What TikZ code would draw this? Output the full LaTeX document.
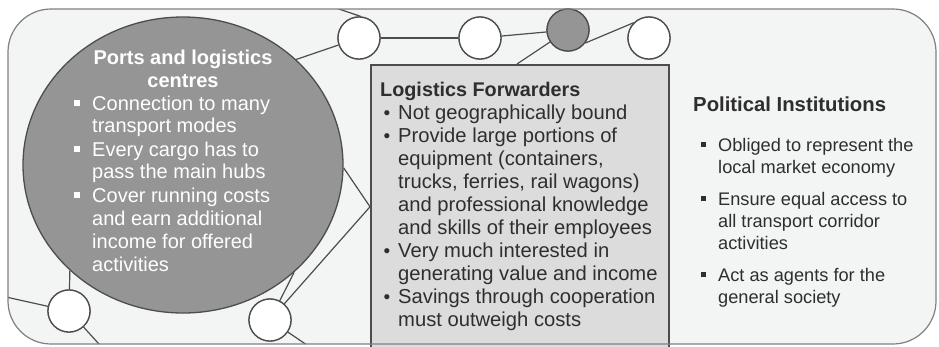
\documentclass[tikz,border=0pt]{standalone}
\usepackage{fontspec}
\setmainfont{Liberation Sans}
\usetikzlibrary{shapes.geometric}
\definecolor{framefill}{HTML}{F3F4F4}
\definecolor{framedraw}{HTML}{808080}
\definecolor{hubgray}{HTML}{959595}
\definecolor{linegray}{HTML}{4D4D4D}
\definecolor{boxfill}{HTML}{DCDCDD}
\definecolor{tgray}{HTML}{2E2E2E}
\begin{document}
\begin{tikzpicture}[x=1pt,y=-1pt,
  conn/.style={draw=linegray,line width=1.2pt},
  wcirc/.style={circle,draw=linegray,fill=white,line width=1.3pt,minimum size=42pt,inner sep=0pt},
  gcirc/.style={circle,draw=linegray,fill=hubgray,line width=1.3pt,minimum size=42pt,inner sep=0pt},
  fwbox/.style={draw=linegray,fill=boxfill,line width=1.5pt,minimum width=298pt,minimum height=284pt,inner sep=0pt,anchor=north west},
  ptxt/.style={inner sep=0pt,anchor=base west,text=white,font=\fontsize{20}{23}\selectfont},
  ptitle/.style={inner sep=0pt,anchor=base,text=white,font=\fontsize{20}{23}\selectfont\bfseries},
  btxt/.style={inner sep=0pt,anchor=base west,text=tgray,font=\fontsize{20.2}{23}\selectfont},
  btitle/.style={inner sep=0pt,anchor=base west,text=tgray,font=\fontsize{19.8}{23}\selectfont\bfseries},
  rtxt/.style={inner sep=0pt,anchor=base west,text=tgray,font=\fontsize{18.2}{21}\selectfont},
  rtitle/.style={inner sep=0pt,anchor=base west,text=tgray,font=\fontsize{20.3}{23}\selectfont\bfseries},
  wsq/.style={rectangle,fill=white,minimum size=5.5pt,inner sep=0pt},
  dsq/.style={rectangle,fill=tgray,minimum size=5pt,inner sep=0pt},
  dot/.style={inner sep=0pt,anchor=base,text=tgray,font=\fontsize{19}{22}\selectfont}]
\useasboundingbox (0,0) rectangle (939,346);
% frame
\path[fill=framefill] (8,9) [rounded corners=43pt] -- (936,9) -- (936,344) -- (8,344) -- cycle;
% network nodes
\node[ellipse,draw=linegray,fill=hubgray,line width=1.3pt,minimum width=320pt,minimum height=296pt,inner sep=0pt] (big) at (183,165) {};
\node[wcirc] (A) at (359,38) {};
\node[wcirc] (B) at (480,38) {};
\node[gcirc] (C) at (568,30) {};
\node[wcirc] (D) at (649,38) {};
\node[wcirc] (E) at (69,311) {};
\node[wcirc] (F) at (270,320) {};
\node[fwbox] (box) at (370,64) {};
\coordinate (a0) at (300,-4);
\coordinate (e2) at (118,365);
\coordinate (e3) at (-12,293);
\coordinate (f2) at (335,364);
\coordinate (cb) at (517,64);
% connectors, clipped to the frame
\begin{scope}
\clip (8,9) [rounded corners=43pt] -- (936,9) -- (936,344) -- (8,344) -- cycle;
\draw[conn] (A.85) -- (a0);
\draw[conn] (A) -- (big.43);
\draw[conn] (A) -- (B);
\draw[conn] (B) -- (C);
\draw[conn] (C) -- (cb);
\draw[conn] (C.-37) -- (D.135);
\draw[conn] (E) -- (big.223);
\draw[conn] (E) -- (e3);
\draw[conn] (E) -- (e2);
\draw[conn] (F) -- (big.316);
\draw[conn] (F) -- (box.west);
\draw[conn] (big.359) -- (box.west);
\draw[conn] (F) -- (f2);
\end{scope}
% redraw nodes over connectors
\node[wcirc] at (A) {};
\node[wcirc] at (B) {};
\node[gcirc] at (C) {};
\node[wcirc] at (D) {};
\node[wcirc] at (E) {};
\node[wcirc] at (F) {};
\node[fwbox] at (370,64) {};
% frame border
\draw[framedraw,line width=1.2pt] (8,9) [rounded corners=43pt] -- (936,9) -- (936,344) -- (8,344) -- cycle;
% ports text
\node[ptitle] (p0) at (183,64) {Ports and logistics};
\node[ptitle] (p00) at (183,87) {centres};
\foreach \y/\t [count=\i] in {110/Connection to many,132/transport modes,156/Every cargo has to,178/pass the main hubs,202/Cover running costs,225/and earn additional,248/income for offered,271/activities}
  \node[ptxt] (p\i) at (92,\y) {\t};
\foreach \y [count=\i] in {110,156,202}
  \node[wsq] (pb\i) at (77,\y-7) {};
% box text
\node[btitle] (b0) at (380,96) {Logistics Forwarders};
\foreach \y/\t [count=\i] in {119/Not geographically bound,142/Provide large portions of,165/{equipment (containers,},188/{trucks, ferries, rail wagons)},211/and professional knowledge,234/and skills of their employees,257/Very much interested in,280/generating value and income,303/Savings through cooperation,326/must outweigh costs}
  \node[btxt] (b\i) at (398,\y) {\t};
\foreach \y [count=\i] in {119,142,257,303}
  \node[dot] (bb\i) at (387,\y) {•};
% political text
\node[rtitle] (r0) at (693,111) {Political Institutions};
\foreach \y/\t [count=\i] in {151/Obliged to represent the,173/local market economy,205/Ensure equal access to,227/all transport corridor,249/activities,281/Act as agents for the,303/general society}
  \node[rtxt] (r\i) at (718,\y) {\t};
\foreach \y [count=\i] in {151,205,281}
  \node[dsq] (rb\i) at (703,\y-6.5) {};
\end{tikzpicture}
\end{document}
